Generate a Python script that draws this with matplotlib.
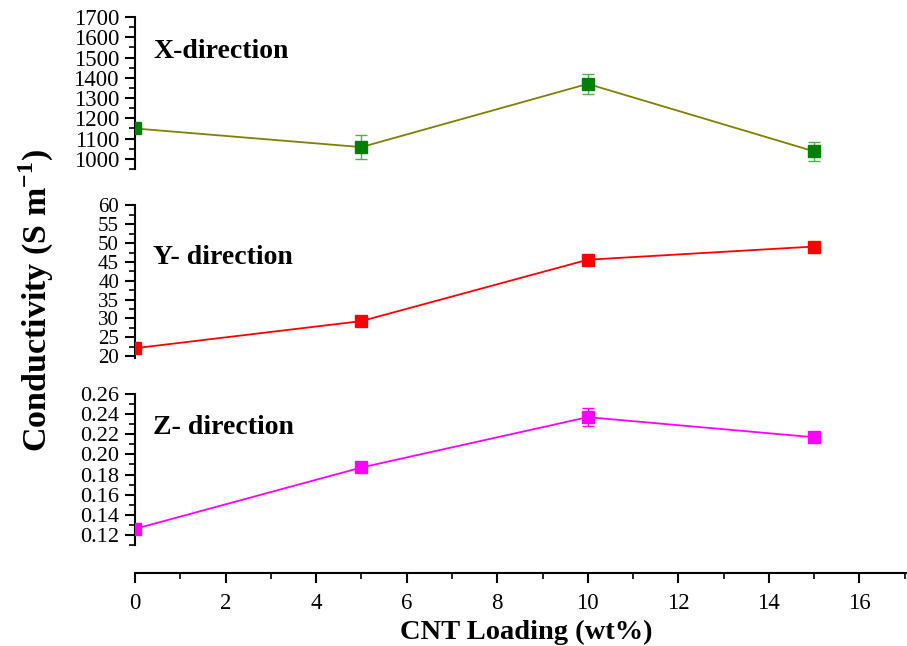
import numpy as np
import matplotlib.pyplot as plt
from matplotlib.ticker import MultipleLocator, FormatStrFormatter

plt.rcParams['font.family'] = ['Liberation Serif', 'DejaVu Serif']
plt.rcParams['mathtext.fontset'] = 'custom'
plt.rcParams['mathtext.rm'] = 'Liberation Serif'
plt.rcParams['mathtext.bf'] = 'Liberation Serif:bold'

# CNT loading (wt%)
loading = [0, 5, 10, 15]

# conductivity along each direction (S/m) with error bars
cond_x = [1150, 1058, 1370, 1037]
err_x = [20, 58, 50, 48]
cond_y = [22.1, 29.3, 45.6, 49.1]
err_y = [0.5, 0.5, 0.6, 0.5]
cond_z = [0.126, 0.187, 0.237, 0.217]
err_z = [0.002, 0.002, 0.009, 0.002]

W, H = 907, 646
fig = plt.figure(figsize=(W / 100, H / 100), dpi=100)

left = 135 / W
width = (W - 135) / W


def panel(top_px, bottom_px):
    return fig.add_axes([left, 1 - bottom_px / H, width, (bottom_px - top_px) / H])


ax_x = panel(17, 169)
ax_y = panel(205.5, 358)
ax_z = panel(394, 545)

panels = [
    (ax_x, cond_x, err_x, '#808000', '#008000', '#4caf50', (950, 1700), 100, 50, '%d', 16.5, 'X-direction', 52),
    (ax_y, cond_y, err_y, '#ff0000', '#ff0000', '#ff0000', (19.5, 60), 5, 2.5, '%d', 15, 'Y- direction', 258),
    (ax_z, cond_z, err_z, '#ff00ff', '#ff00ff', '#ff00ff', (0.11, 0.26), 0.02, 0.01, '%.2f', 16, 'Z- direction', 428),
]

for ax, vals, errs, lc, mc, ec, ylim, major, minor, fmt, tsize, label, label_y in panels:
    ax.plot(loading, vals, color=lc, lw=1.3, zorder=2)
    ax.errorbar(loading, vals, yerr=errs, fmt='s', color=mc, ms=8, ecolor=ec,
                elinewidth=1.0, capsize=4, capthick=1.0, zorder=3)
    ax.set_xlim(0, 17.05)
    ax.set_ylim(*ylim)
    ax.yaxis.set_major_locator(MultipleLocator(major))
    ax.yaxis.set_minor_locator(MultipleLocator(minor))
    ax.yaxis.set_major_formatter(FormatStrFormatter(fmt))
    for s in ['top', 'right', 'bottom']:
        ax.spines[s].set_visible(False)
    ax.spines['left'].set_linewidth(1.5)
    ax.tick_params(axis='y', which='major', direction='out', length=7.5, width=1.5,
                   labelsize=tsize, pad=4)
    ax.tick_params(axis='y', which='minor', direction='out', length=4, width=1.2)
    ax.set_xticks([])
    fig.text(153 / W, 1 - label_y / H, label, fontsize=20, fontweight='bold',
             ha='left', va='center')

# shared x axis below the panels
ax_z.spines['bottom'].set_visible(True)
ax_z.spines['bottom'].set_position(('outward', 20))
ax_z.spines['bottom'].set_linewidth(1.5)
ax_z.xaxis.set_major_locator(MultipleLocator(2))
ax_z.xaxis.set_minor_locator(MultipleLocator(1))
ax_z.tick_params(axis='x', which='major', direction='out', length=7.5, width=1.5,
                 labelsize=16.5, pad=7)
ax_z.tick_params(axis='x', which='minor', direction='out', length=4, width=1.2)

fig.text(526 / W, 1 - 632 / H, 'CNT Loading (wt%)', fontsize=20.5, fontweight='bold',
         ha='center', va='center')
fig.text(36 / W, 1 - 301 / H, r'Conductivity (S m$^{\mathbf{-1}}$)', fontsize=24.5,
         fontweight='bold', rotation=90, ha='center', va='center')

fig.savefig('out.png', dpi=100)
